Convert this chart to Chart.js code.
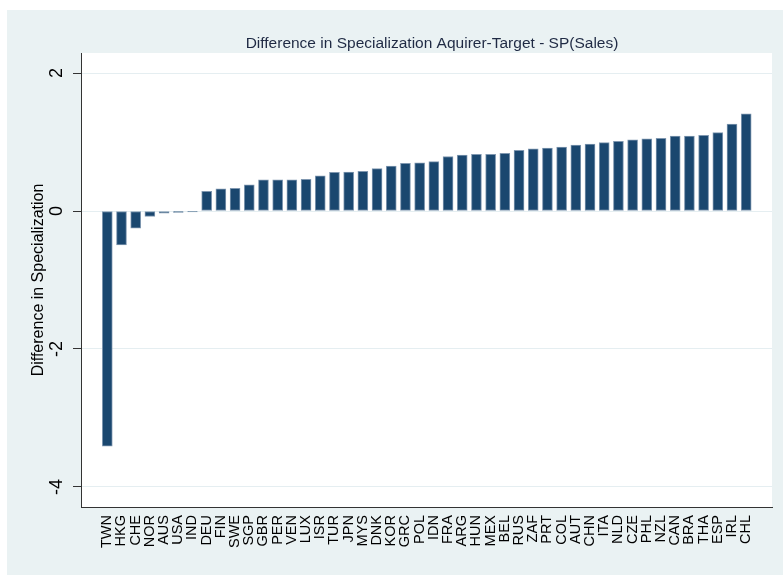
<!DOCTYPE html>
<html>
<head>
<meta charset="utf-8">
<script src="https://cdn.jsdelivr.net/npm/chart.js@4.4.1/dist/chart.umd.min.js"></script>
<style>
  html, body { margin: 0; padding: 0; background: #fff; }
  canvas { display: block; }
</style>
</head>
<body>
<canvas id="chart" width="783" height="575"></canvas>
<script>
const countries = ['TWN', 'HKG', 'CHE', 'NOR', 'AUS', 'USA', 'IND', 'DEU', 'FIN', 'SWE',
  'SGP', 'GBR', 'PER', 'VEN', 'LUX', 'ISR', 'TUR', 'JPN', 'MYS', 'DNK',
  'KOR', 'GRC', 'POL', 'IDN', 'FRA', 'ARG', 'HUN', 'MEX', 'BEL', 'RUS',
  'ZAF', 'PRT', 'COL', 'AUT', 'CHN', 'ITA', 'NLD', 'CZE', 'PHL', 'NZL',
  'CAN', 'BRA', 'THA', 'ESP', 'IRL', 'CHL'];
const diffValues = [-3.41, -0.49, -0.25, -0.08, -0.03, -0.02, -0.015, 0.285, 0.32, 0.33,
  0.38, 0.45, 0.45, 0.45, 0.46, 0.51, 0.56, 0.565, 0.575, 0.615,
  0.65, 0.69, 0.70, 0.715, 0.79, 0.81, 0.82, 0.82, 0.835, 0.88,
  0.90, 0.913, 0.928, 0.957, 0.97, 0.99, 1.01, 1.03, 1.045, 1.055,
  1.087, 1.087, 1.097, 1.135, 1.26, 1.41];
const yTicks = [-4, -2, 0, 2];
const chartTitle = 'Difference in Specialization Aquirer-Target - SP(Sales)';
const yTitle = 'Difference in Specialization';

const FONT = '"Liberation Sans", Arial, sans-serif';

// stata-like backgrounds + title
const backdrop = {
  id: 'backdrop',
  beforeDraw(chart) {
    const { ctx, chartArea: a } = chart;
    ctx.save();
    ctx.fillStyle = '#ffffff';
    ctx.fillRect(0, 0, chart.width, chart.height);
    ctx.fillStyle = '#eaf2f3';
    ctx.fillRect(7, 10, chart.width - 7, chart.height - 10);
    ctx.fillStyle = '#ffffff';
    ctx.fillRect(a.left, a.top, a.right - a.left, a.bottom - a.top);
    ctx.restore();
  },
  afterDraw(chart) {
    const ctx = chart.ctx;
    ctx.save();
    ctx.font = '15.5px ' + FONT;
    ctx.fillStyle = '#1f2a44';
    ctx.textAlign = 'center';
    ctx.textBaseline = 'alphabetic';
    ctx.fillText(chartTitle, 432, 47.5);
    ctx.restore();
  }
};

new Chart(document.getElementById('chart'), {
  type: 'bar',
  data: {
    datasets: [{
      data: diffValues.map((v, i) => ({ x: i, y: v })),
      backgroundColor: '#1a476f',
      borderColor: '#7f97b0',
      borderWidth: 1,
      borderSkipped: false,
      barThickness: 10
    }]
  },
  options: {
    responsive: false,
    animation: false,
    layout: { padding: { left: 0, top: 53, right: 11, bottom: 0 } },
    plugins: {
      legend: { display: false },
      tooltip: { enabled: false }
    },
    scales: {
      x: {
        type: 'linear',
        offset: false,
        min: -1.852,
        max: 46.817,
        afterBuildTicks: axis => { axis.ticks = countries.map((_, i) => ({ value: i })); },
        afterFit: scale => { scale.height = 68; },
        grid: { display: false, drawTicks: false },
        border: { color: '#333', width: 1 },
        ticks: {
          autoSkip: false,
          minRotation: 90,
          maxRotation: 90,
          padding: 8,
          color: '#000',
          font: { family: FONT, size: 14.5 },
          callback: v => countries[v]
        }
      },
      y: {
        min: -4.29,
        max: 2.29,
        afterBuildTicks: axis => { axis.ticks = yTicks.map(v => ({ value: v })); },
        afterFit: scale => { scale.width = 81; },
        grid: { color: '#e5eef1', lineWidth: 1, tickLength: 8, tickColor: '#333' },
        border: { color: '#333', width: 1 },
        ticks: {
          minRotation: 90,
          maxRotation: 90,
          crossAlign: 'center',
          padding: 8,
          color: '#000',
          font: { family: FONT, size: 18 }
        },
        title: {
          display: true,
          text: yTitle,
          color: '#000',
          font: { family: FONT, size: 16 },
          padding: { top: 29, bottom: 0 }
        }
      }
    }
  },
  plugins: [backdrop]
});
</script>
</body>
</html>
